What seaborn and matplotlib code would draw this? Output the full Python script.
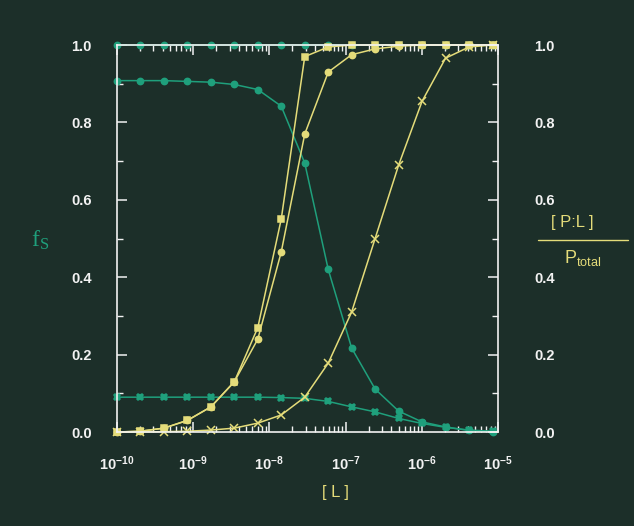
import numpy as np
import pandas as pd
import seaborn as sns
import matplotlib.pyplot as plt
import matplotlib.ticker as mticker
from matplotlib.lines import Line2D

# ligand concentration [L] (M), roughly doubling steps
conc = [1.0e-10, 2.03e-10, 4.13e-10, 8.4e-10, 1.71e-9, 3.47e-9, 7.05e-9,
        1.43e-8, 2.91e-8, 5.92e-8, 1.20e-7, 2.44e-7, 4.97e-7, 1.01e-6,
        2.05e-6, 4.17e-6, 8.47e-6]

# fs curves (green)
fs_top = [1.0] * 17
fs_dot = [0.908, 0.908, 0.908, 0.906, 0.904, 0.898, 0.885, 0.842, 0.695,
          0.42, 0.217, 0.111, 0.054, 0.026, 0.013, 0.004, 0.001]
fs_cross = [0.09, 0.09, 0.09, 0.09, 0.09, 0.09, 0.09, 0.089, 0.087, 0.079,
            0.065, 0.052, 0.035, 0.022, 0.012, 0.005, 0.002]

# [P:L]/Ptotal curves (yellow)
pl_square = [0.0, 0.002, 0.01, 0.03, 0.065, 0.13, 0.27, 0.55, 0.97, 0.995,
             1.0, 1.0, 1.0, 1.0, 1.0, 1.0, 1.0]
pl_dot = [0.0, 0.002, 0.01, 0.03, 0.065, 0.13, 0.24, 0.465, 0.77, 0.93,
          0.975, 0.99, 0.997, 1.0, 1.0, 1.0, 1.0]
pl_cross = [0.0, 0.0, 0.001, 0.002, 0.005, 0.01, 0.023, 0.044, 0.09, 0.178,
            0.31, 0.5, 0.69, 0.855, 0.966, 0.995, 1.0]

bg = "#1c2f29"
teal = "#1fa07c"
yellow = "#e4dc7a"
white = "#f2f2f2"

sns.set_style("dark", {"axes.facecolor": bg, "figure.facecolor": bg})
plt.rcParams['font.family'] = ['Liberation Sans', 'DejaVu Sans']

fig = plt.figure(figsize=(6.34, 5.26), dpi=100)
ax = fig.add_axes([0.1845, 0.1787, 0.601, 0.7357])
ax.set_facecolor(bg)

series = [
    (fs_top, teal, "o", 4.5),
    (fs_cross, teal, "X", 4.5),
    (fs_dot, teal, "o", 4.5),
    (pl_cross, yellow, "x", 5.5),
    (pl_dot, yellow, "o", 4.5),
    (pl_square, yellow, "s", 4.5),
]
for ys, col, mk, ms in series:
    df = pd.DataFrame({"conc": conc, "frac": ys})
    sns.lineplot(data=df, x="conc", y="frac", ax=ax, color=col, marker=mk,
                 markersize=ms, markeredgecolor=col, markeredgewidth=1.1,
                 linewidth=1.1, clip_on=False)

ax.set_xscale("log")
ax.set_xlim(1e-10, 1e-5)
ax.set_ylim(0, 1)
ax.set_xlabel("")
ax.set_ylabel("")
ax.grid(False)

ax.xaxis.set_major_locator(mticker.LogLocator(base=10, numticks=10))
ax.xaxis.set_minor_locator(mticker.LogLocator(base=10, subs=np.arange(2, 10), numticks=60))
ax.xaxis.set_minor_formatter(mticker.NullFormatter())
ax.yaxis.set_major_locator(mticker.MultipleLocator(0.2))
ax.yaxis.set_minor_locator(mticker.MultipleLocator(0.1))
ax.yaxis.set_major_formatter(mticker.FormatStrFormatter("%.1f"))

for s in ax.spines.values():
    s.set_color(white)
    s.set_linewidth(1.2)
    s.set_visible(True)

ax.tick_params(axis="both", which="both", direction="in", colors=white,
               top=True, right=True, bottom=True, left=True)
ax.tick_params(axis="both", which="major", length=7, width=1.1)
ax.tick_params(axis="both", which="minor", length=4, width=1.0)
ax.tick_params(axis="y", which="both", labelleft=True, labelright=False, pad=18)
ax.tick_params(axis="x", which="both", pad=16)
for lab in ax.get_xticklabels() + ax.get_yticklabels():
    lab.set_fontsize(10.5)
    lab.set_fontweight("bold")
    lab.set_color(white)

# right-hand scale
ax2 = ax.twinx()
ax2.set_ylim(0, 1)
ax2.yaxis.set_major_locator(mticker.MultipleLocator(0.2))
ax2.yaxis.set_minor_locator(mticker.MultipleLocator(0.1))
ax2.yaxis.set_major_formatter(mticker.FormatStrFormatter("%.1f"))
ax2.tick_params(axis="y", which="both", direction="in", colors=white, pad=26)
ax2.tick_params(axis="y", which="major", length=7, width=1.1)
ax2.tick_params(axis="y", which="minor", length=4, width=1.0)
for s in ax2.spines.values():
    s.set_visible(False)
ax2.grid(False)
for lab in ax2.get_yticklabels():
    lab.set_fontsize(10.5)
    lab.set_fontweight("bold")
    lab.set_color(white)

# axis titles
fig.text(40 / 634, 1 - 240 / 526, r"$\mathregular{f_S}$", color=teal,
         fontsize=17, family=["Liberation Serif", "DejaVu Serif"],
         ha="center", va="center")
fig.text(335 / 634, 1 - 493 / 526, "[ L ]", color=yellow, fontsize=12,
         ha="center", va="center")
fig.text(572 / 634, 1 - 223 / 526, "[ P:L ]", color=yellow, fontsize=12,
         ha="center", va="center")
fig.add_artist(Line2D([538 / 634, 628 / 634], [1 - 240 / 526, 1 - 240 / 526],
                      color=yellow, linewidth=1.0, transform=fig.transFigure))
fig.text(583 / 634, 1 - 258 / 526, r"$\mathregular{P_{total}}$", color=yellow,
         fontsize=13, ha="center", va="center")

plt.savefig("out.png", dpi=100, facecolor=bg)
